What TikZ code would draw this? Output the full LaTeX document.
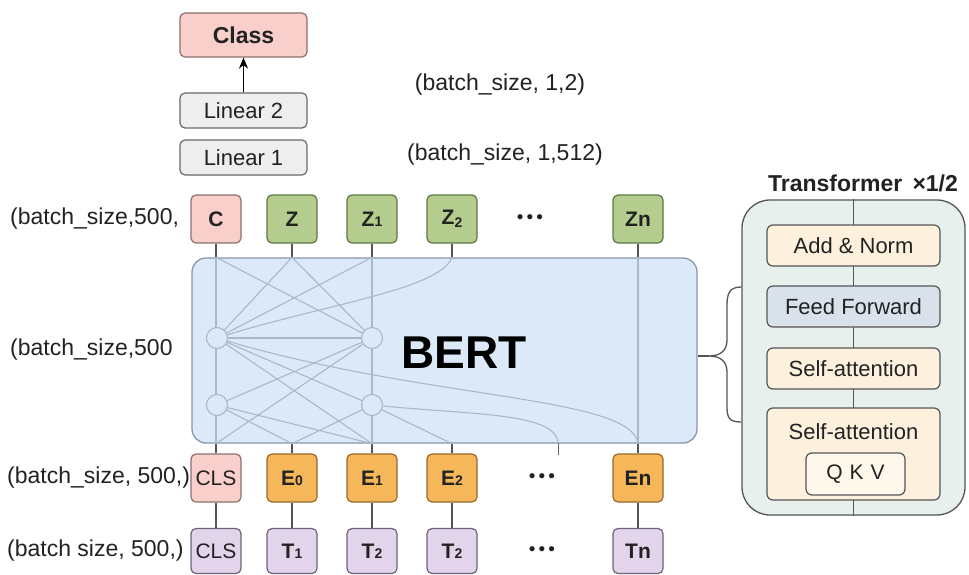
\documentclass[tikz,border=0pt]{standalone}
\usepackage{fontspec}
\setmainfont{Liberation Sans}
\usetikzlibrary{arrows.meta}
\definecolor{pinkf}{HTML}{F8CFCA}
\definecolor{pinkd}{HTML}{8E6F6C}
\definecolor{greenf}{HTML}{B4CD8E}
\definecolor{greend}{HTML}{5D7644}
\definecolor{orangef}{HTML}{F6B75A}
\definecolor{oranged}{HTML}{96692B}
\definecolor{lavf}{HTML}{E2D5EB}
\definecolor{lavd}{HTML}{6E6378}
\definecolor{grayf}{HTML}{EEEEEE}
\definecolor{grayd}{HTML}{6A6A6A}
\definecolor{bertf}{HTML}{DCE9F9}
\definecolor{bertd}{HTML}{8796AE}
\definecolor{netc}{HTML}{A9B8CA}
\definecolor{trf}{HTML}{E7F0EC}
\definecolor{beigef}{HTML}{FDF1DE}
\definecolor{ffwf}{HTML}{D9E2EA}
\definecolor{linec}{HTML}{555555}
\definecolor{txt}{HTML}{222222}
\newcommand{\smalldig}[1]{{\fontsize{14}{14}\selectfont #1}}
\newcommand{\lowdig}[1]{\raisebox{-3pt}{\fontsize{14}{14}\selectfont #1}}
\begin{document}
\begin{tikzpicture}[x=1pt,y=-1pt,
  tok/.style={rounded corners=5pt, line width=1.2pt, minimum width=50pt, minimum height=48pt, inner sep=0pt, text=txt, font=\fontsize{21}{24}\selectfont\bfseries},
  tokr/.style={tok, font=\fontsize{21}{24}\selectfont},
  lin/.style={draw=grayd, fill=grayf, rounded corners=5pt, line width=1.2pt, minimum width=127pt, minimum height=35pt, inner sep=0pt, text=txt, font=\fontsize{22}{26}\selectfont},
  lab/.style={inner sep=0pt, text=txt, font=\fontsize{23}{27}\selectfont},
  llab/.style={inner sep=0pt, text=txt, font=\fontsize{23}{27}\selectfont},
  dots/.style={inner sep=0pt, text=txt, font=\fontsize{19}{19}\selectfont},
  conn/.style={draw=linec, line width=1.3pt},
  net/.style={draw=netc, line width=1.1pt},
  hid/.style={circle, draw=netc, fill=bertf, line width=1.1pt, minimum size=21pt, inner sep=0pt},
  tbox/.style={draw=linec, rounded corners=6pt, line width=1.2pt, minimum width=173pt, minimum height=41pt, inner sep=0pt, text=txt, font=\fontsize{22}{25}\selectfont},
]
\useasboundingbox (0,0) rectangle (969,575);
\fill[white] (0,0) rectangle (969,575);

% head
\node[lin, fill=pinkf, draw=pinkd, minimum height=44pt, font=\fontsize{23}{27}\selectfont\bfseries] (cls) at (243.5,35) {Class};
\node[lin] (lin2) at (243.5,110.5) {Linear 2};
\node[lin] (lin1) at (243.5,157.5) {Linear 1};
\draw[draw=black, line width=1.8pt, -{Stealth[length=11pt,width=9pt]}] (lin2) -- (cls);
\node[lab] (s12) at (500,85) {(batch\_size, 1,2)};
\node[lab] (s512) at (505,155) {(batch\_size, 1,512)};

% BERT box
\node[draw=bertd, fill=bertf, rounded corners=14pt, line width=1.3pt, minimum width=505pt, minimum height=185pt, inner sep=0pt] (bert) at (444.5,350.5) {};

% top tokens
\node[tok, fill=pinkf, draw=pinkd] (c) at (216,219) {C};
\node[tok, fill=greenf, draw=greend] (z) at (292,219) {Z};
\node[tok, fill=greenf, draw=greend] (z1) at (372,219) {Z\smalldig{1}};
\node[tok, fill=greenf, draw=greend] (z2) at (452,219) {Z\lowdig{2}};
\node[dots] (zd) at (530,219) {•\,•\,•};
\node[tok, fill=greenf, draw=greend] (zn) at (638,219) {Zn};

% bottom tokens
\node[tokr, fill=pinkf, draw=pinkd] (cls1) at (216,478) {CLS};
\node[tok, fill=orangef, draw=oranged] (e0) at (292,478) {E\smalldig{0}};
\node[tok, fill=orangef, draw=oranged] (e1) at (372,478) {E\smalldig{1}};
\node[tok, fill=orangef, draw=oranged] (e2) at (452,478) {E\smalldig{2}};
\node[dots] (ed) at (542,478) {•\,•\,•};
\node[tok, fill=orangef, draw=oranged] (en) at (638,478) {En};

\node[tokr, fill=lavf, draw=lavd, minimum height=45pt] (cls2) at (216,551) {CLS};
\node[tok, fill=lavf, draw=lavd, minimum height=45pt] (t1) at (292,551) {T\smalldig{1}};
\node[tok, fill=lavf, draw=lavd, minimum height=45pt] (t2) at (372,551) {T\smalldig{2}};
\node[tok, fill=lavf, draw=lavd, minimum height=45pt] (t2b) at (452,551) {T\smalldig{2}};
\node[dots] (td) at (542,551) {•\,•\,•};
\node[tok, fill=lavf, draw=lavd, minimum height=45pt] (tn) at (638,551) {Tn};

% outside connectors
\foreach \n in {c,z,z1,z2,zn}{\draw[conn] (\n.south) -- (\n.south |- bert.north);}
\foreach \n in {cls1,e0,e1,e2,en}{\draw[conn] (\n.north) -- (\n.north |- bert.south);}
\draw[conn] (cls1) -- (cls2);
\draw[conn] (e0) -- (t1);
\draw[conn] (e1) -- (t2);
\draw[conn] (e2) -- (t2b);
\draw[conn] (en) -- (tn);

% network inside BERT
\coordinate (tc) at (c.south |- bert.north);
\coordinate (tz) at (z.south |- bert.north);
\coordinate (tz1) at (z1.south |- bert.north);
\coordinate (tz2) at (z2.south |- bert.north);
\coordinate (tzn) at (zn.south |- bert.north);
\coordinate (bc) at (cls1.north |- bert.south);
\coordinate (b0) at (e0.north |- bert.south);
\coordinate (b1) at (e1.north |- bert.south);
\coordinate (b2) at (e2.north |- bert.south);
\coordinate (bd) at (558,443);
\coordinate (bdx) at (558,455);
\coordinate (bn) at (en.north |- bert.south);
\coordinate (ul) at (217,338);
\coordinate (ur) at (372,338);
\coordinate (ll) at (217,405);
\coordinate (lr) at (372,405);

\draw[net] (tc) -- (bc);
\draw[net] (tz1) -- (b1);
\draw[net] (tzn) -- (bn);
\draw[net] (tz) -- (ul);
\draw[net] (tz) -- (ur);
\draw[net] (tc) -- (ur);
\draw[net] (tz1) -- (ul);
\draw[net] (tz2) .. controls (440,290) and (320,305) .. (ul);
\draw[net] (ul) -- (ur);
\draw[net] (ul) -- (lr);
\draw[net] (ur) -- (ll);
\draw[net] (ul) -- (b1);
\draw[net] (ur) -- (bc);
\draw[net] (ul) .. controls (420,400) and (632,395) .. (bn);
\draw[net] (lr) .. controls (470,415) and (556,412) .. (bd);
\draw[net] (ll) -- (b0);
\draw[net] (ll) -- (b1);
\draw[net] (lr) -- (b0);
\draw[net] (lr) -- (b2);
\draw[conn, draw=grayd, line width=1pt] (bd) -- (bdx);

\node[hid] (hul) at (ul) {};
\node[hid] (hur) at (ur) {};
\node[hid] (hll) at (ll) {};
\node[hid] (hlr) at (lr) {};

\node[inner sep=0pt, text=black, font=\fontsize{46}{50}\selectfont\bfseries] (berttxt) at (464,353) {BERT};

% left labels
\node[llab, anchor=west] (lt) at (10,219) {(batch\_size,500,};
\node[llab, anchor=west] (lm) at (10,350) {(batch\_size,500};
\node[llab, anchor=west] (le) at (7,478) {(batch\_size, 500,)};
\node[llab, anchor=west] (lb) at (7,551) {(batch size, 500,)};

% transformer panel
\node[inner sep=0pt, text=txt, font=\fontsize{23}{26}\selectfont\bfseries] (trt) at (863,183) {Transformer \,×1/2};
\node[draw=linec, fill=trf, rounded corners=28pt, line width=1.3pt, minimum width=223pt, minimum height=315pt, inner sep=0pt] (tr) at (853.5,357.5) {};
\draw[conn] (tr.north) -- (tr.south);
\node[tbox, fill=beigef] (an) at (853.5,245.5) {Add \& Norm};
\node[tbox, fill=ffwf] (ff) at (853.5,306.5) {Feed Forward};
\node[tbox, fill=beigef] (sa1) at (853.5,368.5) {Self-attention};
\node[tbox, fill=beigef, minimum height=92pt] (sa2) at (853.5,454) {};
\node[inner sep=0pt, text=txt, font=\fontsize{22}{25}\selectfont] (sa2t) at (853.5,432) {Self-attention};
\node[draw=linec, fill=beigef!60!white, rounded corners=6pt, line width=1.2pt, minimum width=99pt, minimum height=42pt, inner sep=0pt, text=txt, font=\fontsize{21}{24}\selectfont] (qkv) at (855.5,474) {Q\,\,K\,\,V};

% brace
\coordinate (btip) at (709,356);
\draw[conn] (bert.east |- btip) -- (btip);
\draw[conn] (tr.west |- 0,287) .. controls (729,287) and (727,294) .. (727,306) -- (727,340)
  .. controls (727,350) and (721,356) .. (btip)
  .. controls (721,356) and (727,362) .. (727,372) -- (727,406)
  .. controls (727,418) and (729,422) .. (tr.west |- 0,422);
\end{tikzpicture}
\end{document}
